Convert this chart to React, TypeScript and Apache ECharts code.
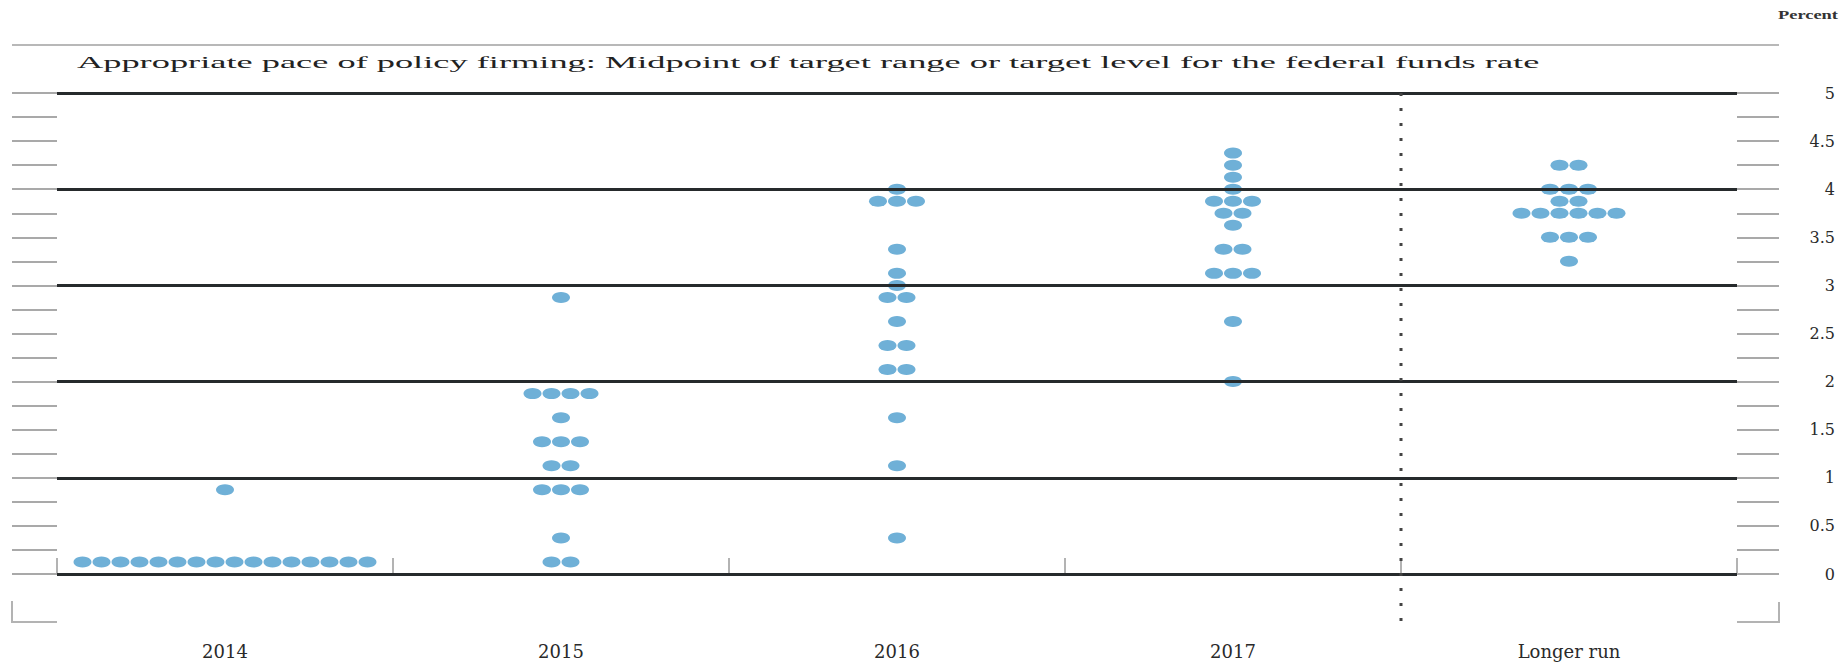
import React, { useEffect, useRef } from "react";
import * as echarts from "echarts";

const categories = ["2014", "2015", "2016", "2017", "Longer run"];

// [midpoint value, number of participants]
const dots2014: [number, number][] = [
  [0.125, 16],
  [0.875, 1],
];
const dots2015: [number, number][] = [
  [0.125, 2],
  [0.375, 1],
  [0.875, 3],
  [1.125, 2],
  [1.375, 3],
  [1.625, 1],
  [1.875, 4],
  [2.875, 1],
];
const dots2016: [number, number][] = [
  [0.375, 1],
  [1.125, 1],
  [1.625, 1],
  [2.125, 2],
  [2.375, 2],
  [2.625, 1],
  [2.875, 2],
  [3.0, 1],
  [3.125, 1],
  [3.375, 1],
  [3.875, 3],
  [4.0, 1],
];
const dots2017: [number, number][] = [
  [2.0, 1],
  [2.625, 1],
  [3.125, 3],
  [3.375, 2],
  [3.625, 1],
  [3.75, 2],
  [3.875, 3],
  [4.0, 1],
  [4.125, 1],
  [4.25, 1],
  [4.375, 1],
];
const dotsLongerRun: [number, number][] = [
  [3.25, 1],
  [3.5, 3],
  [3.75, 6],
  [3.875, 2],
  [4.0, 3],
  [4.25, 2],
];

const columns = [dots2014, dots2015, dots2016, dots2017, dotsLongerRun];

const titleText =
  "Appropriate pace of policy firming: Midpoint of target range or target level for the federal funds rate";
const unitText = "Percent";

const W = 1847;
const H = 664;
const GRID_LEFT = 57;
const GRID_RIGHT_X = 1737;
const GRID_TOP = 93;
const GRID_BOTTOM_Y = 574;
const AXIS_Y = 622;
const DOT_STEP = 19;

function measure(text: string, font: string): number {
  const c = document.createElement("canvas");
  const ctx = c.getContext("2d");
  if (!ctx) return text.length * 8;
  ctx.font = font;
  return ctx.measureText(text).width;
}

export default function App() {
  const ref = useRef<HTMLDivElement>(null);

  useEffect(() => {
    if (!ref.current) return;
    const chart = echarts.init(ref.current, undefined, { renderer: "svg" });

    const data: any[] = [];
    columns.forEach((col, ci) => {
      col.forEach(([v, n]) => {
        for (let i = 0; i < n; i++) {
          data.push({
            value: [ci, v],
            symbolOffset: [(i - (n - 1) / 2) * DOT_STEP, 0],
          });
        }
      });
    });

    const titleFont = '17px "Liberation Serif"';
    const titleW = measure(titleText, titleFont);
    const titleScale = (1540 - 77) / titleW;
    const unitFont = 'bold 12px "Liberation Serif"';
    const unitW = measure(unitText, unitFont);
    const unitScale = 60 / unitW;

    const catW = (GRID_RIGHT_X - GRID_LEFT) / categories.length;
    const dividerX = GRID_LEFT + catW * 4;

    const gray = "#a9a9a9";

    chart.setOption({
      animation: false,
      grid: {
        left: GRID_LEFT,
        right: W - GRID_RIGHT_X,
        top: GRID_TOP,
        bottom: H - GRID_BOTTOM_Y,
        containLabel: false,
      },
      xAxis: {
        type: "category",
        data: categories,
        position: "bottom",
        offset: AXIS_Y - GRID_BOTTOM_Y,
        boundaryGap: true,
        axisLine: { show: true, lineStyle: { color: "#b3b3b3", width: 2 } },
        axisTick: {
          show: true,
          inside: true,
          length: 16,
          lineStyle: { color: "#b3b3b3", width: 2 },
        },
        axisLabel: {
          margin: 20,
          fontFamily: "DejaVu Serif",
          fontSize: 18,
          color: "#2a2a2a",
        },
        splitLine: { show: false },
      },
      yAxis: [
        {
          type: "value",
          position: "right",
          min: 0,
          max: 5,
          interval: 0.5,
          axisLine: { show: false },
          axisTick: { show: true, length: 42, lineStyle: { color: gray, width: 2 } },
          minorTick: {
            show: true,
            splitNumber: 2,
            length: 42,
            lineStyle: { color: gray, width: 2 },
          },
          axisLabel: {
            show: true,
            align: "right",
            margin: 98,
            fontFamily: "DejaVu Serif",
            fontSize: 16,
            color: "#2a2a2a",
          },
          splitLine: { show: false },
        },
        {
          type: "value",
          position: "left",
          min: 0,
          max: 5,
          interval: 1,
          z: 3,
          axisLine: { show: false },
          axisLabel: { show: false },
          axisTick: { show: true, length: 45, lineStyle: { color: gray, width: 2 } },
          minorTick: {
            show: true,
            splitNumber: 4,
            length: 45,
            lineStyle: { color: gray, width: 2 },
          },
          splitLine: { show: true, lineStyle: { color: "#262a2c", width: 3 } },
        },
      ],
      series: [
        {
          type: "scatter",
          yAxisIndex: 0,
          symbol: "circle",
          symbolSize: [18, 11],
          itemStyle: { color: "#6fb0d7", opacity: 1 },
          data,
          silent: true,
        },
      ],
      graphic: [
        {
          type: "line",
          shape: { x1: 12, y1: 45, x2: 1779, y2: 45 },
          style: { stroke: "#b8b8b8", lineWidth: 2 },
        },
        {
          type: "text",
          x: 77,
          y: 62,
          scaleX: titleScale,
          style: {
            text: titleText,
            font: titleFont,
            fill: "#222",
            align: "left",
            verticalAlign: "middle",
          },
        },
        {
          type: "text",
          x: 1778,
          y: 15,
          scaleX: unitScale,
          style: {
            text: unitText,
            font: unitFont,
            fill: "#333",
            align: "left",
            verticalAlign: "middle",
          },
        },
        {
          type: "line",
          shape: { x1: dividerX, y1: GRID_TOP, x2: dividerX, y2: AXIS_Y },
          style: { stroke: "#444", lineWidth: 3, lineDash: [3, 12] },
          z: 10,
        },
        {
          type: "polyline",
          shape: { points: [[12, 601], [12, AXIS_Y], [GRID_LEFT, AXIS_Y]] },
          style: { stroke: "#b3b3b3", lineWidth: 2, fill: "none" },
        },
        {
          type: "polyline",
          shape: { points: [[GRID_RIGHT_X, AXIS_Y], [1779, AXIS_Y], [1779, 602]] },
          style: { stroke: "#b3b3b3", lineWidth: 2, fill: "none" },
        },
      ],
    });

    return () => chart.dispose();
  }, []);

  return (
    <div
      ref={ref}
      style={{ position: "fixed", left: 0, top: 0, width: W, height: H, background: "#fff" }}
    />
  );
}
